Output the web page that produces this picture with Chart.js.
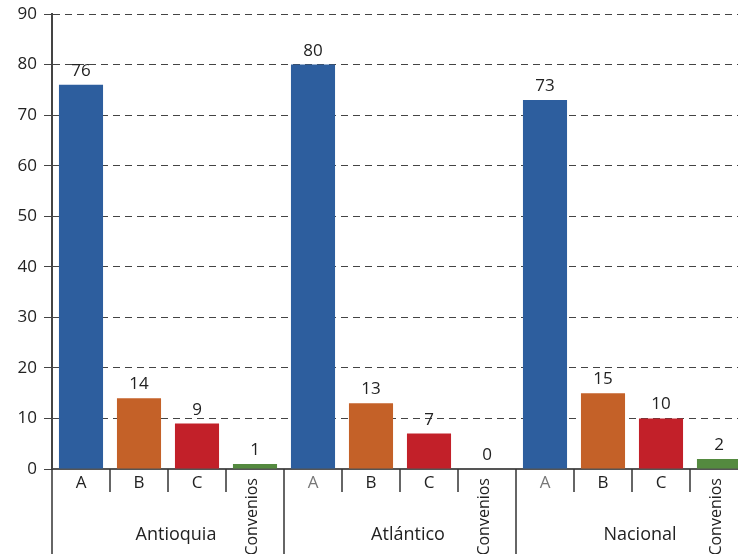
<!DOCTYPE html>
<html>
<head>
<meta charset="utf-8">
<script src="https://cdn.jsdelivr.net/npm/chart.js@4"></script>
<style>
  html, body { margin: 0; padding: 0; background: #fff; overflow: hidden; }
  #wrap { width: 748px; height: 554px; }
</style>
</head>
<body>
<div id="wrap"><canvas id="c" width="748" height="554"></canvas></div>
<script>
// Regions and sub-categories
const groups = ['Antioquia', 'Atlántico', 'Nacional'];
const subcategories = ['A', 'B', 'C', 'Convenios'];

// Values per region, in sub-category order
const antioquia = [76, 14, 9, 1];
const atlantico = [80, 13, 7, 0];
const nacional = [73, 15, 10, 2];

// Y-axis ticks
const yTicks = [0, 10, 20, 30, 40, 50, 60, 70, 80, 90];

const subColors = ['#2d5e9e', '#c46128', '#c22029', '#548a3f'];
const FONT = '"Open Sans", "Noto Sans", sans-serif';

const series = [antioquia, atlantico, nacional];
const labels = [];
const values = [];
const colors = [];
groups.forEach((g, gi) => {
  subcategories.forEach((s, si) => {
    labels.push(g + '|' + s);
    values.push(series[gi][si]);
    colors.push(subColors[si]);
  });
});

// Value labels above bars
const valueLabels = {
  id: 'valueLabels',
  afterDatasetsDraw(chart) {
    const ctx = chart.ctx;
    const meta = chart.getDatasetMeta(0);
    ctx.save();
    ctx.font = '17px ' + FONT;
    ctx.fillStyle = '#222';
    ctx.textAlign = 'center';
    ctx.textBaseline = 'alphabetic';
    meta.data.forEach((bar, i) => {
      ctx.fillText(String(values[i]), bar.x, bar.y - 9);
    });
    ctx.restore();
  }
};

// Two-level category axis: sub-category labels, separators and region names
const groupAxis = {
  id: 'groupAxis',
  afterDraw(chart) {
    const ctx = chart.ctx;
    const x = chart.scales.x;
    const area = chart.chartArea;
    const bottom = chart.height;
    const n = labels.length;
    const half = (x.getPixelForValue(1) - x.getPixelForValue(0)) / 2;
    ctx.save();
    ctx.strokeStyle = '#333';
    ctx.lineWidth = 1.5;
    for (let i = 0; i <= n; i++) {
      const px = i < n ? x.getPixelForValue(i) - half : x.getPixelForValue(n - 1) + half;
      const isGroup = i % subcategories.length === 0;
      ctx.beginPath();
      ctx.moveTo(px, area.bottom);
      ctx.lineTo(px, isGroup ? bottom : area.bottom + 23);
      ctx.stroke();
    }
    ctx.fillStyle = '#222';
    labels.forEach((lab, i) => {
      const [g, s] = lab.split('|');
      const cx = x.getPixelForValue(i);
      const si = i % subcategories.length;
      if (s === 'Convenios') {
        ctx.save();
        ctx.translate(cx - 3, area.bottom + 9);
        ctx.rotate(-Math.PI / 2);
        ctx.font = '16px ' + FONT;
        ctx.textAlign = 'right';
        ctx.textBaseline = 'middle';
        ctx.fillStyle = '#222';
        ctx.fillText(s, 0, 0);
        ctx.restore();
      } else {
        ctx.font = '17px ' + FONT;
        ctx.textAlign = 'center';
        ctx.textBaseline = 'middle';
        ctx.fillStyle = (si === 0 && i >= subcategories.length) ? '#777' : '#222';
        ctx.fillText(s, cx, area.bottom + 14);
      }
    });
    ctx.font = '18px ' + FONT;
    ctx.fillStyle = '#222';
    ctx.textAlign = 'center';
    ctx.textBaseline = 'middle';
    groups.forEach((g, gi) => {
      const first = gi * subcategories.length;
      const last = first + subcategories.length - 1;
      const cx = (x.getPixelForValue(first) + x.getPixelForValue(last)) / 2 + 8;
      ctx.fillText(g, cx, area.bottom + 66);
    });
    ctx.restore();
  }
};

new Chart(document.getElementById('c'), {
  type: 'bar',
  data: {
    labels: labels,
    datasets: [{
      data: values,
      backgroundColor: colors,
      borderWidth: 0,
      barPercentage: 0.76,
      categoryPercentage: 1.0
    }]
  },
  options: {
    responsive: false,
    animation: false,
    layout: { padding: { top: 0, left: 0, right: 0, bottom: 0 } },
    plugins: { legend: { display: false }, tooltip: { enabled: false } },
    scales: {
      x: {
        grid: { display: false },
        ticks: { display: false },
        border: { display: true, color: '#555', width: 2 },
        afterFit(scale) { scale.height = 85; }
      },
      y: {
        min: 0,
        max: 90,
        afterBuildTicks(scale) { scale.ticks = yTicks.map(v => ({ value: v })); },
        afterFit(scale) {
          scale.width = 52;
          scale.paddingTop = 14;
        },
        ticks: {
          color: '#222',
          font: { size: 17, family: FONT },
          padding: 7
        },
        grid: {
          color: '#444',
          lineWidth: 1,
          tickLength: 8,
          tickColor: '#444'
        },
        border: { display: true, color: '#444', width: 2, dash: [7, 5] }
      }
    }
  },
  plugins: [valueLabels, groupAxis]
});
</script>
</body>
</html>
